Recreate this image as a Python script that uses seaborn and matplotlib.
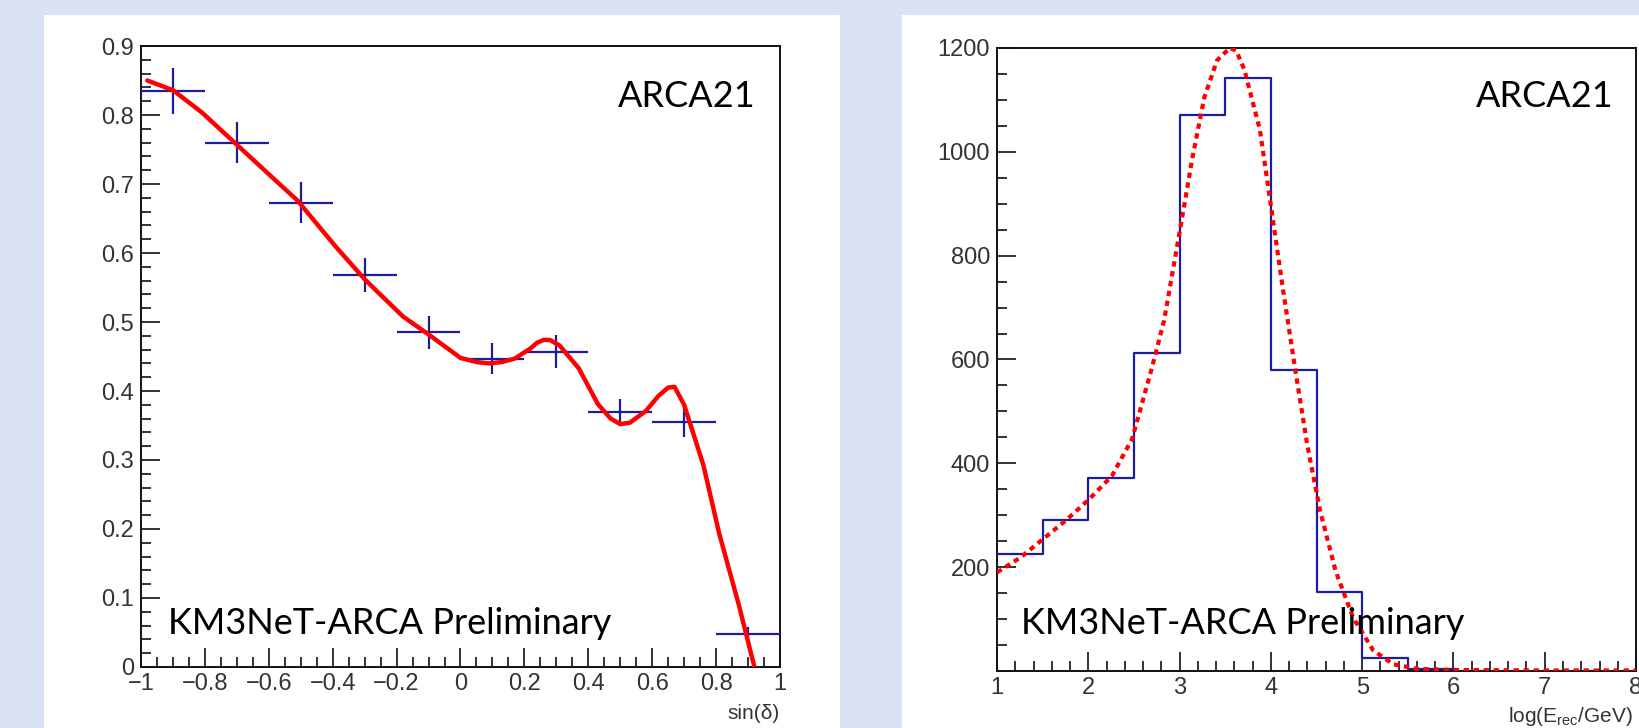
import numpy as np
import pandas as pd
import matplotlib
matplotlib.use('Agg')
import matplotlib.pyplot as plt
from matplotlib.patches import Rectangle
from matplotlib.ticker import MultipleLocator
import seaborn as sns

# left panel: efficiency vs sin(declination)
sin_centers = [-0.9, -0.7, -0.5, -0.3, -0.1, 0.1, 0.3, 0.5, 0.7, 0.9]
sin_halfwidth = [0.1] * 10
eff = [0.835, 0.760, 0.673, 0.568, 0.485, 0.447, 0.457, 0.370, 0.355, 0.048]
eff_err = [0.033, 0.030, 0.030, 0.025, 0.024, 0.022, 0.024, 0.018, 0.022, 0.010]

fit_sin = [-0.98, -0.90, -0.81, -0.70, -0.59, -0.51, -0.39, -0.30, -0.18, -0.10,
           0.00, 0.05, 0.09, 0.13, 0.17, 0.22, 0.24, 0.26, 0.28, 0.31, 0.37, 0.43,
           0.47, 0.50, 0.53, 0.58, 0.62, 0.65, 0.67, 0.70, 0.76, 0.81, 0.87, 0.92]
fit_eff = [0.850, 0.836, 0.804, 0.757, 0.710, 0.676, 0.609, 0.562, 0.508, 0.482,
           0.448, 0.442, 0.440, 0.442, 0.447, 0.462, 0.470, 0.474, 0.474, 0.466, 0.433, 0.381,
           0.360, 0.352, 0.354, 0.371, 0.393, 0.405, 0.406, 0.380, 0.293, 0.193, 0.092, 0.0]

# right panel: reconstructed energy histogram
e_edges = [1.0, 1.5, 2.0, 2.5, 3.0, 3.5, 4.0, 4.5, 5.0, 5.5, 6.0]
e_counts = [225, 290, 372, 613, 1070, 1143, 580, 152, 25, 4]

fit_loge = [1.0, 1.26, 1.51, 1.76, 2.01, 2.26, 2.48, 2.70, 2.83, 3.0, 3.14, 3.27,
            3.41, 3.55, 3.62, 3.71, 3.88, 4.02, 4.13, 4.27, 4.40, 4.54, 4.71,
            4.90, 5.12, 5.34, 5.61, 6.0, 7.0, 8.0]
fit_counts = [190, 219, 255, 291, 331, 376, 447, 586, 675, 845, 988, 1104,
              1176, 1200, 1195, 1158, 1042, 872, 738, 577, 434, 308, 192,
              103, 40, 13, 4, 2, 1, 1]

left_xticks = [-1, -0.8, -0.6, -0.4, -0.2, 0, 0.2, 0.4, 0.6, 0.8, 1]
left_xlabels = ['\u22121', '\u22120.8', '\u22120.6', '\u22120.4', '\u22120.2', '0',
                '0.2', '0.4', '0.6', '0.8', '1']
left_yticks = [0, 0.1, 0.2, 0.3, 0.4, 0.5, 0.6, 0.7, 0.8, 0.9]
left_ylabels = ['0', '0.1', '0.2', '0.3', '0.4', '0.5', '0.6', '0.7', '0.8', '0.9']
right_xticks = [1, 2, 3, 4, 5, 6, 7, 8]
right_xlabels = ['1', '2', '3', '4', '5', '6', '7', '8']
right_yticks = [200, 400, 600, 800, 1000, 1200]
right_ylabels = ['200', '400', '600', '800', '1000', '1200']

sns.set_style('ticks')
plt.rcParams['font.family'] = ['Liberation Sans', 'DejaVu Sans']
plt.rcParams['mathtext.fontset'] = 'custom'
plt.rcParams['mathtext.rm'] = 'Liberation Sans'

BLUE = '#1c1ca0'
RED = '#ff0000'
TICK_C = '#333333'
TICK_FS = 17
NOTE_FONT = ['Lato', 'DejaVu Sans']
NOTE_FS = 26

fig = plt.figure(figsize=(16.39, 7.28), dpi=100)
fig.patch.set_facecolor('#dae3f3')
#White slide boxes
fig.add_artist(Rectangle((0.0268, 0), 0.4857, 0.979, transform=fig.transFigure,
                         facecolor='white', edgecolor='none', zorder=0))
fig.add_artist(Rectangle((0.5503, 0), 0.4497, 0.979, transform=fig.transFigure,
                         facecolor='white', edgecolor='none', zorder=0))

ax1 = fig.add_axes([0.0860, 0.0838, 0.3899, 0.853])
ax2 = fig.add_axes([0.6083, 0.0783, 0.3899, 0.8558])


def root_style(ax):
    ax.set_facecolor('white')
    for sp in ax.spines.values():
        sp.set_visible(True)
        sp.set_linewidth(1.4)
        sp.set_color('#111111')
    ax.tick_params(which='both', direction='in', color='#111111', width=1.2,
                   top=False, right=False, labelcolor=TICK_C)
    ax.tick_params(which='major', length=14)
    ax.tick_params(which='minor', length=7)
    ax.tick_params(axis='y', pad=5)
    ax.tick_params(axis='x', pad=4)
    ax.set_xlabel('')
    ax.set_ylabel('')


# Left: efficiency crosses + fit
ax1.errorbar(sin_centers, eff, xerr=sin_halfwidth, yerr=eff_err, fmt='none',
             ecolor=BLUE, elinewidth=1.6, capsize=0, zorder=3)
fit_df = pd.DataFrame({'sin': fit_sin, 'eff': fit_eff})
sns.lineplot(data=fit_df, x='sin', y='eff', sort=False, color=RED, linewidth=3.2,
             ax=ax1, zorder=4)
ax1.set_xlim(-1, 1)
ax1.set_ylim(0, 0.9)
ax1.set_xticks(left_xticks, left_xlabels, fontsize=TICK_FS)
ax1.set_yticks(left_yticks, left_ylabels, fontsize=TICK_FS)
ax1.xaxis.set_minor_locator(MultipleLocator(0.05))
ax1.yaxis.set_minor_locator(MultipleLocator(0.02))
root_style(ax1)
ax1.text(1.0, -0.06, 'sin(\u03b4)', transform=ax1.transAxes, ha='right', va='top',
         fontsize=15, color=TICK_C)
ax1.text(0.962, 0.902, 'ARCA21', transform=ax1.transAxes, ha='right', va='baseline',
         fontsize=NOTE_FS, family=NOTE_FONT, color='black')
ax1.text(0.042, 0.053, 'KM3NeT-ARCA Preliminary', transform=ax1.transAxes,
         ha='left', va='baseline', fontsize=NOTE_FS, family=NOTE_FONT, color='black', zorder=5)

# Right: energy histogram + fit
e_centers = [(a + b) / 2 for a, b in zip(e_edges[:-1], e_edges[1:])]
sns.histplot(x=e_centers, weights=e_counts, bins=e_edges, element='step', fill=False,
             color=BLUE, linewidth=1.6, ax=ax2, zorder=3)
efit_df = pd.DataFrame({'loge': fit_loge, 'n': fit_counts})
sns.lineplot(data=efit_df, x='loge', y='n', sort=False, color=RED, linewidth=3.0,
             linestyle=(0, (1.3, 1.1)), ax=ax2, zorder=4)
ax2.set_xlim(1, 8)
ax2.set_ylim(0, 1200)
ax2.set_xticks(right_xticks, right_xlabels, fontsize=TICK_FS)
ax2.set_yticks(right_yticks, right_ylabels, fontsize=TICK_FS)
ax2.xaxis.set_minor_locator(MultipleLocator(0.2))
ax2.yaxis.set_minor_locator(MultipleLocator(50))
root_style(ax2)
ax2.text(0.995, -0.055, 'log(E$_{\\mathrm{rec}}$/GeV)', transform=ax2.transAxes,
         ha='right', va='top', fontsize=15, color=TICK_C)
ax2.text(0.9656, 0.905, 'ARCA21', transform=ax2.transAxes, ha='right', va='baseline',
         fontsize=NOTE_FS, family=NOTE_FONT, color='black')
ax2.text(0.0376, 0.059, 'KM3NeT-ARCA Preliminary', transform=ax2.transAxes,
         ha='left', va='baseline', fontsize=NOTE_FS, family=NOTE_FONT, color='black', zorder=5)

fig.savefig('out.png', dpi=100, facecolor=fig.get_facecolor())
